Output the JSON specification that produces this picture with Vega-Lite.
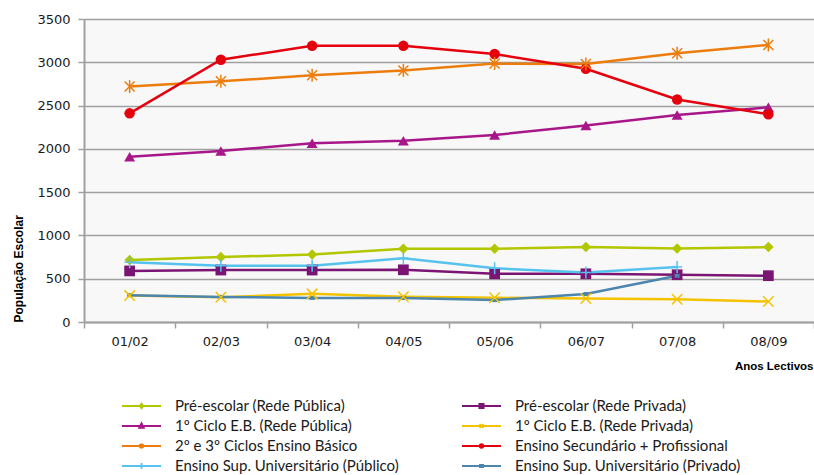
{
  "$schema": "https://vega.github.io/schema/vega-lite/v6.json",
  "width": 730,
  "height": 303,
  "autosize": {"type": "none"},
  "padding": {"left": 84, "top": 19, "right": 0, "bottom": 153},
  "background": "white",
  "config": {"view": {"fill": "#f8f8f8", "stroke": null}},
  "data": {"values": [
    {"ano": "01/02", "serie": "Pré-escolar (Rede Pública)", "valor": 715},
    {"ano": "02/03", "serie": "Pré-escolar (Rede Pública)", "valor": 750},
    {"ano": "03/04", "serie": "Pré-escolar (Rede Pública)", "valor": 780},
    {"ano": "04/05", "serie": "Pré-escolar (Rede Pública)", "valor": 845},
    {"ano": "05/06", "serie": "Pré-escolar (Rede Pública)", "valor": 845},
    {"ano": "06/07", "serie": "Pré-escolar (Rede Pública)", "valor": 865},
    {"ano": "07/08", "serie": "Pré-escolar (Rede Pública)", "valor": 850},
    {"ano": "08/09", "serie": "Pré-escolar (Rede Pública)", "valor": 865},
    {"ano": "01/02", "serie": "Pré-escolar (Rede Privada)", "valor": 590},
    {"ano": "02/03", "serie": "Pré-escolar (Rede Privada)", "valor": 600},
    {"ano": "03/04", "serie": "Pré-escolar (Rede Privada)", "valor": 600},
    {"ano": "04/05", "serie": "Pré-escolar (Rede Privada)", "valor": 603},
    {"ano": "05/06", "serie": "Pré-escolar (Rede Privada)", "valor": 557},
    {"ano": "06/07", "serie": "Pré-escolar (Rede Privada)", "valor": 557},
    {"ano": "07/08", "serie": "Pré-escolar (Rede Privada)", "valor": 546},
    {"ano": "08/09", "serie": "Pré-escolar (Rede Privada)", "valor": 535},
    {"ano": "01/02", "serie": "1º Ciclo E.B. (Rede Pública)", "valor": 1910},
    {"ano": "02/03", "serie": "1º Ciclo E.B. (Rede Pública)", "valor": 1975},
    {"ano": "03/04", "serie": "1º Ciclo E.B. (Rede Pública)", "valor": 2065},
    {"ano": "04/05", "serie": "1º Ciclo E.B. (Rede Pública)", "valor": 2095},
    {"ano": "05/06", "serie": "1º Ciclo E.B. (Rede Pública)", "valor": 2160},
    {"ano": "06/07", "serie": "1º Ciclo E.B. (Rede Pública)", "valor": 2270},
    {"ano": "07/08", "serie": "1º Ciclo E.B. (Rede Pública)", "valor": 2390},
    {"ano": "08/09", "serie": "1º Ciclo E.B. (Rede Pública)", "valor": 2480},
    {"ano": "01/02", "serie": "1º Ciclo E.B. (Rede Privada)", "valor": 305},
    {"ano": "02/03", "serie": "1º Ciclo E.B. (Rede Privada)", "valor": 285},
    {"ano": "03/04", "serie": "1º Ciclo E.B. (Rede Privada)", "valor": 325},
    {"ano": "04/05", "serie": "1º Ciclo E.B. (Rede Privada)", "valor": 292},
    {"ano": "05/06", "serie": "1º Ciclo E.B. (Rede Privada)", "valor": 280},
    {"ano": "06/07", "serie": "1º Ciclo E.B. (Rede Privada)", "valor": 272},
    {"ano": "07/08", "serie": "1º Ciclo E.B. (Rede Privada)", "valor": 262},
    {"ano": "08/09", "serie": "1º Ciclo E.B. (Rede Privada)", "valor": 237},
    {"ano": "01/02", "serie": "2º e 3º Ciclos Ensino Básico", "valor": 2720},
    {"ano": "02/03", "serie": "2º e 3º Ciclos Ensino Básico", "valor": 2780},
    {"ano": "03/04", "serie": "2º e 3º Ciclos Ensino Básico", "valor": 2850},
    {"ano": "04/05", "serie": "2º e 3º Ciclos Ensino Básico", "valor": 2905},
    {"ano": "05/06", "serie": "2º e 3º Ciclos Ensino Básico", "valor": 2985},
    {"ano": "06/07", "serie": "2º e 3º Ciclos Ensino Básico", "valor": 2980},
    {"ano": "07/08", "serie": "2º e 3º Ciclos Ensino Básico", "valor": 3105},
    {"ano": "08/09", "serie": "2º e 3º Ciclos Ensino Básico", "valor": 3200},
    {"ano": "01/02", "serie": "Ensino Secundário + Profissional", "valor": 2410},
    {"ano": "02/03", "serie": "Ensino Secundário + Profissional", "valor": 3030},
    {"ano": "03/04", "serie": "Ensino Secundário + Profissional", "valor": 3190},
    {"ano": "04/05", "serie": "Ensino Secundário + Profissional", "valor": 3190},
    {"ano": "05/06", "serie": "Ensino Secundário + Profissional", "valor": 3095},
    {"ano": "06/07", "serie": "Ensino Secundário + Profissional", "valor": 2925},
    {"ano": "07/08", "serie": "Ensino Secundário + Profissional", "valor": 2570},
    {"ano": "08/09", "serie": "Ensino Secundário + Profissional", "valor": 2400},
    {"ano": "01/02", "serie": "Ensino Sup. Universitário (Público)", "valor": 690},
    {"ano": "02/03", "serie": "Ensino Sup. Universitário (Público)", "valor": 650},
    {"ano": "03/04", "serie": "Ensino Sup. Universitário (Público)", "valor": 650},
    {"ano": "04/05", "serie": "Ensino Sup. Universitário (Público)", "valor": 735},
    {"ano": "05/06", "serie": "Ensino Sup. Universitário (Público)", "valor": 620},
    {"ano": "06/07", "serie": "Ensino Sup. Universitário (Público)", "valor": 572},
    {"ano": "07/08", "serie": "Ensino Sup. Universitário (Público)", "valor": 635},
    {"ano": "01/02", "serie": "Ensino Sup. Universitário (Privado)", "valor": 310},
    {"ano": "02/03", "serie": "Ensino Sup. Universitário (Privado)", "valor": 290},
    {"ano": "03/04", "serie": "Ensino Sup. Universitário (Privado)", "valor": 278},
    {"ano": "04/05", "serie": "Ensino Sup. Universitário (Privado)", "valor": 278},
    {"ano": "05/06", "serie": "Ensino Sup. Universitário (Privado)", "valor": 253},
    {"ano": "06/07", "serie": "Ensino Sup. Universitário (Privado)", "valor": 323},
    {"ano": "07/08", "serie": "Ensino Sup. Universitário (Privado)", "valor": 534}
  ]},
  "encoding": {
    "x": {
      "field": "ano", "type": "ordinal",
      "scale": {"type": "band", "paddingInner": 0, "paddingOuter": 0},
      "axis": {
        "title": "Anos Lectivos", "titleAnchor": "end", "titleAlign": "right", "titleX": 729, "titleY": 44,
        "titleBaseline": "middle", "titleFont": "Liberation Sans", "titleFontWeight": "bold", "titleFontSize": 11.5, "titleColor": "#000000",
        "labelFont": "DejaVu Sans", "labelFontSize": 13, "labelColor": "#1a1a1a", "labelAngle": 0, "labelPadding": 7,
        "tickBand": "extent", "tickSize": 6, "tickColor": "#a0a0a0", "tickWidth": 1.5,
        "domainColor": "#a0a0a0", "domainWidth": 2, "grid": false
      }
    },
    "y": {
      "field": "valor", "type": "quantitative",
      "scale": {"domain": [0, 3500], "nice": false},
      "axis": {
        "values": [0, 500, 1000, 1500, 2000, 2500, 3000, 3500], "format": "d",
        "title": "População Escolar", "titleAngle": -90, "titleX": -66, "titleY": 303, "titleAlign": "left", "titleBaseline": "middle",
        "titleFont": "Liberation Sans", "titleFontWeight": "bold", "titleFontSize": 12, "titleColor": "#000000",
        "labelFont": "DejaVu Sans", "labelFontSize": 13, "labelColor": "#1a1a1a", "labelPadding": 8,
        "tickSize": 6, "tickColor": "#a0a0a0", "tickWidth": 1.5,
        "domainColor": "#a0a0a0", "domainWidth": 2,
        "grid": true, "gridColor": "#a0a0a0", "gridWidth": 1.5
      }
    },
    "color": {
      "field": "serie", "type": "nominal",
      "scale": {
        "domain": ["Pré-escolar (Rede Pública)", "1º Ciclo E.B. (Rede Pública)", "2º e 3º Ciclos Ensino Básico", "Ensino Sup. Universitário (Público)", "Pré-escolar (Rede Privada)", "1º Ciclo E.B. (Rede Privada)", "Ensino Secundário + Profissional", "Ensino Sup. Universitário (Privado)"],
        "range": ["#b2c700", "#a8178a", "#ec7d0d", "#55c3ee", "#7b1574", "#f4c300", "#e5000e", "#4c86ae"]
      },
      "legend": {
        "title": null, "orient": "none", "legendX": 37, "legendY": 377, "columns": 2, "columnPadding": 62,
        "rowPadding": 0, "clipHeight": 20, "padding": 0,
        "symbolType": "M-1,0L1,0", "symbolSize": 1521, "symbolStrokeWidth": 2, "labelOffset": 13,
        "labelFont": "Lato", "labelFontSize": 15, "labelColor": "#1a1a1a", "labelLimit": 400,
        "encode": {
          "symbols": {
            "update": {
              "shape": {"signal": "['M-1,0L1,0M0,-0.12L0.09,0L0,0.12L-0.09,0Z','M-1,0L1,0M0,-0.14L0.12,0.09L-0.12,0.09Z','M-1,0L1,0M-0.1,-0.1L0.1,0.1M0.1,-0.1L-0.1,0.1M0,-0.13L0,0.13','M-1,0L1,0M0,-0.15L0,0.15','M-1,0L1,0M-0.11,-0.11L0.11,-0.11L0.11,0.11L-0.11,0.11Z','M-1,0L1,0M-0.1,-0.1L0.1,0.1M0.1,-0.1L-0.1,0.1','M-1,0L1,0M-0.09,0A0.09,0.09,0,1,1,0.09,0A0.09,0.09,0,1,1,-0.09,0Z','M-1,0L1,0M-0.08,-0.06L0.08,-0.06L0.08,0.06L-0.08,0.06Z'][indexof(domain('color'), datum.value)]"},
              "fill": {"scale": "color", "field": "value"},
              "stroke": {"scale": "color", "field": "value"},
              "strokeWidth": {"value": 1.8},
              "opacity": {"value": 1}
            }
          }
        }
      }
    }
  },
  "layer": [
    {"mark": {"type": "line", "strokeWidth": 2.5}},
    {"transform": [{"filter": "datum.serie === 'Pré-escolar (Rede Pública)'"}],
     "mark": {"type": "point", "shape": "diamond", "filled": true, "opacity": 1, "size": 110}},
    {"transform": [{"filter": "datum.serie === 'Pré-escolar (Rede Privada)'"}],
     "mark": {"type": "point", "shape": "square", "filled": true, "opacity": 1, "size": 115}},
    {"transform": [{"filter": "datum.serie === '1º Ciclo E.B. (Rede Pública)'"}],
     "mark": {"type": "point", "shape": "triangle-up", "filled": true, "opacity": 1, "size": 120}},
    {"transform": [{"filter": "datum.serie === 'Ensino Secundário + Profissional'"}],
     "mark": {"type": "point", "shape": "circle", "filled": true, "opacity": 1, "size": 110}},
    {"transform": [{"filter": "datum.serie === 'Ensino Sup. Universitário (Privado)'"}],
     "mark": {"type": "point", "shape": "M-0.5,-0.4L0.5,-0.4L0.5,0.4L-0.5,0.4Z", "filled": true, "opacity": 1, "size": 100}},
    {"transform": [{"filter": "datum.serie === '1º Ciclo E.B. (Rede Privada)'"}],
     "mark": {"type": "point", "shape": "M-1,-1L1,1M1,-1L-1,1", "filled": false, "opacity": 1, "size": 110, "strokeWidth": 1.5}},
    {"transform": [{"filter": "datum.serie === '2º e 3º Ciclos Ensino Básico'"}],
     "mark": {"type": "point", "shape": "M-1,-1L1,1M1,-1L-1,1M0,-1.3L0,1.3", "filled": false, "opacity": 1, "size": 100, "strokeWidth": 1.5}},
    {"transform": [{"filter": "datum.serie === 'Ensino Sup. Universitário (Público)'"}],
     "mark": {"type": "point", "shape": "M0,-1.2L0,1.2M-1,0L1,0", "filled": false, "opacity": 1, "size": 100, "strokeWidth": 1.5}}
  ]
}
